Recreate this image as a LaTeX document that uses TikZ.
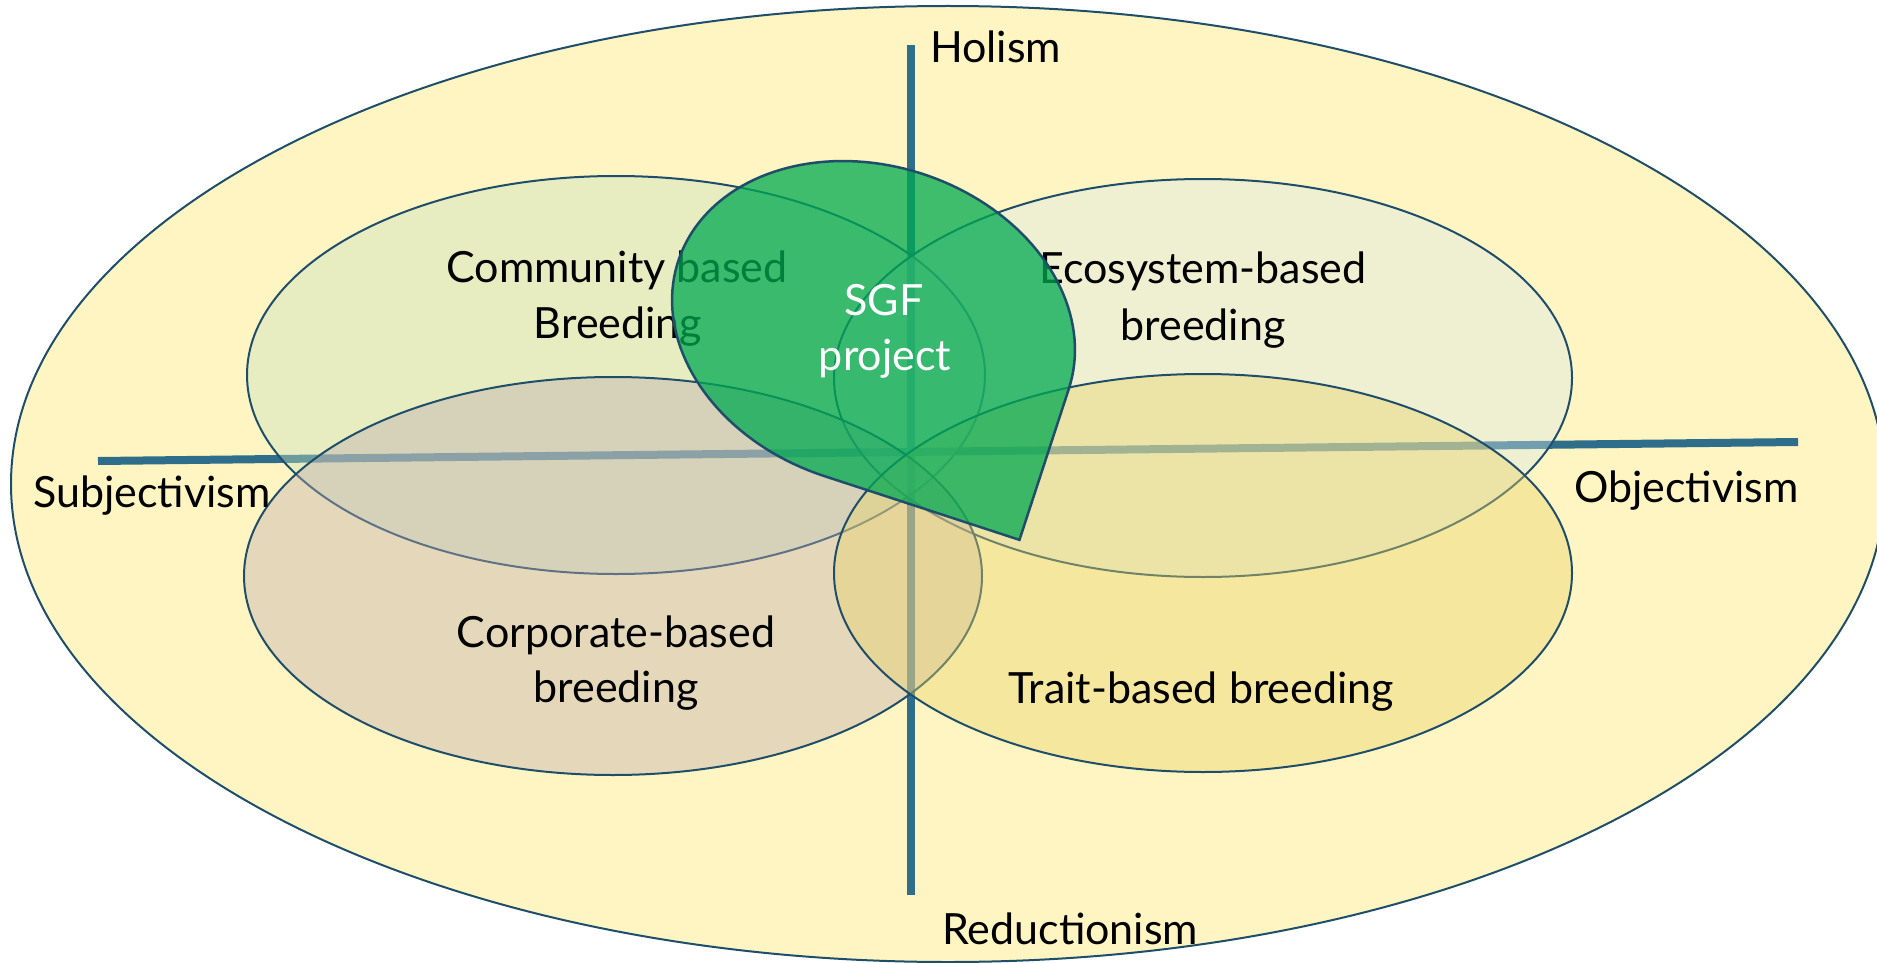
\documentclass[tikz,border=0pt]{standalone}
\usepackage{fontspec}
\setmainfont{Lato}
\definecolor{outerfill}{RGB}{255,245,194}
\definecolor{edge}{RGB}{31,78,107}
\definecolor{axisblue}{RGB}{46,110,138}
\definecolor{commfill}{RGB}{197,225,189}
\definecolor{ecofill}{RGB}{217,232,234}
\definecolor{corpfill}{RGB}{190,170,176}
\definecolor{traitfill}{RGB}{232,212,104}
\definecolor{sgfgreen}{RGB}{0,169,81}
\begin{document}
\begin{tikzpicture}[x=1pt,y=-1pt,
  lbl/.style={font=\fontsize{43}{52}\selectfont, inner sep=0pt, anchor=base},
  axisline/.style={line width=8pt, draw=axisblue},
  petal/.style={draw=edge, line width=2pt, fill opacity=0.4},
  sgfshape/.style={draw=edge, line width=2.5pt, fill=sgfgreen, fill opacity=0.75, line join=miter}]
\useasboundingbox (0,0) rectangle (1877,963);
\clip (0,0) rectangle (1877,963);
% outer ellipse
\filldraw[fill=outerfill, draw=edge, line width=2pt] (948,484) ellipse [x radius=937, y radius=478];
% axes
\coordinate (vtop) at (911,45);
\coordinate (vbot) at (911,895);
\coordinate (hleft) at (98,461);
\coordinate (hright) at (1798,442);
\draw[axisline] (vtop) -- (vbot);
\draw[axisline] (hleft) -- (hright);
% petals
\filldraw[petal, fill=commfill] (616,375) ellipse [x radius=369, y radius=199];
\filldraw[petal, fill=ecofill] (1203,378) ellipse [x radius=369, y radius=199];
\filldraw[petal, fill=corpfill] (613,576) ellipse [x radius=369, y radius=199];
\filldraw[petal, fill=traitfill] (1203,573) ellipse [x radius=369, y radius=199];
% labels
\node[lbl, anchor=base west] (holism) at (930,63) {Holism};
\node[lbl, anchor=base west] (subj) at (33,507) {Subjectivism};
\node[lbl, anchor=base west] (obj) at (1574,502) {Objectivism};
\node[lbl, anchor=base west] (red) at (942,944) {Reductionism};
\node[lbl] (comm1) at (617,282) {Community based};
\node[lbl] (comm2) at (618,338) {Breeding};
\node[lbl] (eco1) at (1203,283) {Ecosystem-based};
\node[lbl] (eco2) at (1203,340) {breeding};
\node[lbl] (corp1) at (616,647) {Corporate-based};
\node[lbl] (corp2) at (616,702) {breeding};
\node[lbl] (trait) at (1201,703) {Trait-based breeding};
% SGF teardrop: rotated ellipse with one quadrant replaced by a corner
\begin{scope}[shift={(873.5,325)}, rotate=-18.1]
\path[sgfshape] (205.5,0) -- (205.5,158.9) -- (0,158.9)
  -- plot[domain=90:360, samples=120] ({205.5*cos(\x)},{158.9*sin(\x)}) -- cycle;
\end{scope}
\node[lbl, text=white] (sgf1) at (884,315) {SGF};
\node[lbl, text=white] (sgf2) at (885,370) {project};
\end{tikzpicture}
\end{document}
